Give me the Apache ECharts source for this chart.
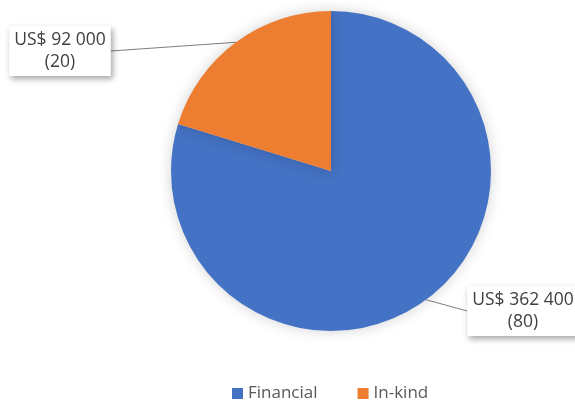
<!DOCTYPE html>
<html>
<head>
<meta charset="utf-8">
<script src="https://cdn.jsdelivr.net/npm/echarts@6/dist/echarts.min.js"></script>
<style>
  html, body { margin: 0; padding: 0; background: #ffffff; }
  #chart { width: 575px; height: 405px; }
</style>
</head>
<body>
<div id="chart"></div>
<script>
// Contribution split by type
const categories = ['Financial', 'In-kind'];
const amounts = [362400, 92000];       // US$
const counts = [80, 20];               // number of contributions
const colors = ['#4472C4', '#ED7D31'];

// Label box positions (center points) per slice
const labelSpots = [
  { x: 523, y: 311 },
  { x: 60, y: 51 }
];

function fmtMoney(v) {
  return 'US$ ' + String(v).replace(/\B(?=(\d{3})+(?!\d))/g, ' ');
}

const chart = echarts.init(document.getElementById('chart'), null, { renderer: 'canvas' });

chart.setOption({
  backgroundColor: '#ffffff',
  animation: false,
  color: colors,
  legend: {
    top: 385,
    left: 232,
    padding: 0,
    itemWidth: 11,
    itemHeight: 11,
    itemGap: 40,
    icon: 'rect',
    textStyle: { fontFamily: 'Open Sans', fontSize: 17, color: '#595959' },
    data: categories
  },
  series: [{
    type: 'pie',
    center: [331, 171],
    radius: [0, 160],
    startAngle: 90,
    clockwise: true,
    itemStyle: {
      shadowBlur: 14,
      shadowColor: 'rgba(0,0,0,0.18)'
    },
    label: {
      show: true,
      position: 'outside',
      formatter: function (p) {
        return fmtMoney(p.value) + '\n(' + counts[p.dataIndex] + ')';
      },
      fontFamily: 'Open Sans',
      fontSize: 17.5,
      color: '#404040',
      lineHeight: 22,
      align: 'center',
      overflow: 'none',
      backgroundColor: '#ffffff',
      padding: [3, 5, 3, 5],
      shadowBlur: 6,
      shadowOffsetX: 2,
      shadowOffsetY: 3,
      shadowColor: 'rgba(0,0,0,0.35)'
    },
    labelLine: {
      show: true,
      length: 0,
      length2: 0,
      lineStyle: { color: '#7f7f7f', width: 1 }
    },
    labelLayout: function (params) {
      const s = labelSpots[params.dataIndex];
      return { x: s.x, y: s.y, align: 'center', verticalAlign: 'middle' };
    },
    emphasis: { disabled: true },
    data: categories.map((c, i) => ({ name: c, value: amounts[i] }))
  }]
});
</script>
</body>
</html>
